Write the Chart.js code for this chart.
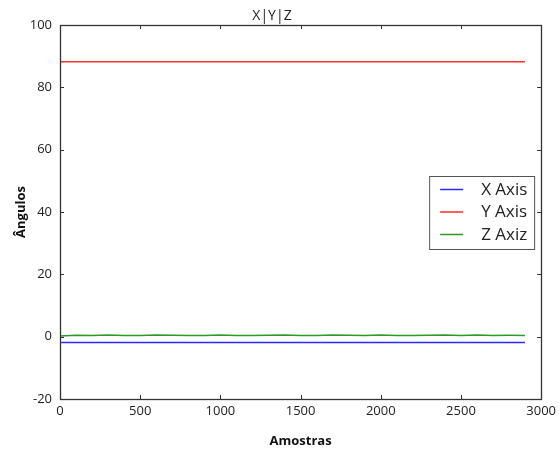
<!DOCTYPE html>
<html>
<head>
<meta charset="utf-8">
<script src="https://cdn.jsdelivr.net/npm/chart.js@4/dist/chart.umd.min.js"></script>
<style>
  html, body { margin: 0; padding: 0; background: #fff; }
  #wrap { width: 560px; height: 450px; position: relative; }
</style>
</head>
<body>
<div id="wrap"><canvas id="c" width="560" height="450"></canvas></div>
<script>
const chartTitle = "X|Y|Z";
const xTitle = "Amostras";
const yTitle = "Ângulos";
const seriesLabels = ["X Axis", "Y Axis", "Z Axiz"];
const seriesColors = ["#2a2aff", "#ff2a2a", "#2a9a2a"];

const samples = [0, 100, 200, 300, 400, 500, 600, 700, 800, 900, 1000, 1100, 1200, 1300, 1400,
  1500, 1600, 1700, 1800, 1900, 2000, 2100, 2200, 2300, 2400, 2500, 2600, 2700, 2800, 2899];
const xAxisVals = [-1.9, -1.9, -1.9, -1.9, -1.9, -1.9, -1.9, -1.9, -1.9, -1.9, -1.9, -1.9, -1.9, -1.9, -1.9,
  -1.9, -1.9, -1.9, -1.9, -1.9, -1.9, -1.9, -1.9, -1.9, -1.9, -1.9, -1.9, -1.9, -1.9, -1.9];
const yAxisVals = [88.2, 88.2, 88.2, 88.2, 88.2, 88.2, 88.2, 88.2, 88.2, 88.2, 88.2, 88.2, 88.2, 88.2, 88.2,
  88.2, 88.2, 88.2, 88.2, 88.2, 88.2, 88.2, 88.2, 88.2, 88.2, 88.2, 88.2, 88.2, 88.2, 88.2];
const zAxisVals = [0.2, 0.45, 0.4, 0.5, 0.4, 0.4, 0.5, 0.45, 0.4, 0.4, 0.5, 0.4, 0.4, 0.45, 0.5,
  0.4, 0.4, 0.5, 0.45, 0.4, 0.5, 0.4, 0.4, 0.45, 0.5, 0.4, 0.5, 0.4, 0.45, 0.4];

const xTicks = [0, 500, 1000, 1500, 2000, 2500, 3000];
const yTicks = [-20, 0, 20, 40, 60, 80, 100];

const toPts = (vals) => samples.map((s, i) => ({ x: s, y: vals[i] }));
const allVals = [xAxisVals, yAxisVals, zAxisVals];

const FONT = "'Open Sans', 'DejaVu Sans', sans-serif";

const framePlugin = {
  id: 'frameTicks',
  afterDatasetsDraw(chart) {
    const { ctx, chartArea: a, scales } = chart;
    ctx.save();
    ctx.strokeStyle = '#333';
    ctx.lineWidth = 1;
    const tl = 4;
    ctx.beginPath();
    xTicks.forEach(v => {
      const px = Math.round(scales.x.getPixelForValue(v)) + 0.5;
      ctx.moveTo(px, a.bottom); ctx.lineTo(px, a.bottom - tl);
      ctx.moveTo(px, a.top); ctx.lineTo(px, a.top + tl);
    });
    yTicks.forEach(v => {
      const py = Math.round(scales.y.getPixelForValue(v)) + 0.5;
      ctx.moveTo(a.left, py); ctx.lineTo(a.left + tl, py);
      ctx.moveTo(a.right, py); ctx.lineTo(a.right - tl, py);
    });
    ctx.stroke();
    ctx.lineWidth = 1.3;
    ctx.strokeRect(Math.round(a.left) + 0.5, Math.round(a.top) + 0.5,
      Math.round(a.right - a.left), Math.round(a.bottom - a.top));
    ctx.restore();
  },
  afterDraw(chart) {
    const { ctx, chartArea: a } = chart;
    const ds = chart.data.datasets;
    const bx = a.right - 112, by = 176, bw = 105, bh = 73;
    ctx.save();
    ctx.fillStyle = '#fff';
    ctx.fillRect(bx, by, bw, bh);
    ctx.strokeStyle = '#555';
    ctx.lineWidth = 1;
    ctx.strokeRect(bx + 0.5, by + 0.5, bw, bh);
    ctx.font = "17px " + FONT;
    ctx.textBaseline = 'middle';
    ctx.textAlign = 'left';
    ds.forEach((d, i) => {
      const y = by + 13 + i * 22.5;
      ctx.strokeStyle = d.borderColor;
      ctx.lineWidth = 1.5;
      ctx.beginPath();
      ctx.moveTo(bx + 11, y + 0.5);
      ctx.lineTo(bx + 34, y + 0.5);
      ctx.stroke();
      ctx.fillStyle = '#222';
      ctx.fillText(d.label, bx + 52, y + 1);
    });
    ctx.restore();
  }
};

new Chart(document.getElementById('c'), {
  type: 'line',
  data: {
    datasets: seriesLabels.map((lab, i) => ({
      label: lab,
      data: toPts(allVals[i]),
      borderColor: seriesColors[i],
      backgroundColor: seriesColors[i],
      borderWidth: 1.5,
      pointRadius: 0,
      tension: 0,
      fill: false
    }))
  },
  options: {
    responsive: false,
    animation: false,
    layout: { padding: { top: 0, right: 16, left: 0, bottom: 0 } },
    plugins: {
      legend: { display: false },
      tooltip: { enabled: false },
      title: {
        display: true,
        text: chartTitle,
        color: '#222',
        font: { family: FONT, size: 14, weight: 'normal', lineHeight: 1.2 },
        padding: { top: 7.5, bottom: 0.7 }
      }
    },
    scales: {
      x: {
        type: 'linear',
        min: 0, max: 3000,
        afterBuildTicks: (s) => { s.ticks = xTicks.map(v => ({ value: v })); },
        afterFit: (s) => { s.height = 51; },
        grid: { display: false, drawTicks: false },
        border: { display: false },
        ticks: { color: '#222', padding: 4, maxRotation: 0, font: { family: FONT, size: 13 },
          callback: (v) => String(v) },
        title: {
          display: true, text: xTitle, color: '#111',
          font: { family: FONT, size: 13, weight: 'bold', lineHeight: 1.2 },
          padding: { top: 0, bottom: 1 }
        }
      },
      y: {
        type: 'linear',
        min: -20, max: 100,
        afterBuildTicks: (s) => { s.ticks = yTicks.map(v => ({ value: v })); },
        afterFit: (s) => { s.width = 60; },
        grid: { display: false, drawTicks: false },
        border: { display: false },
        ticks: { color: '#222', padding: 8, font: { family: FONT, size: 13 },
          callback: (v) => String(v) },
        title: {
          display: true, text: yTitle, color: '#111',
          font: { family: FONT, size: 13, weight: 'bold', lineHeight: 1.2 },
          padding: { top: 13, bottom: 0 }
        }
      }
    }
  },
  plugins: [framePlugin]
});
</script>
</body>
</html>
